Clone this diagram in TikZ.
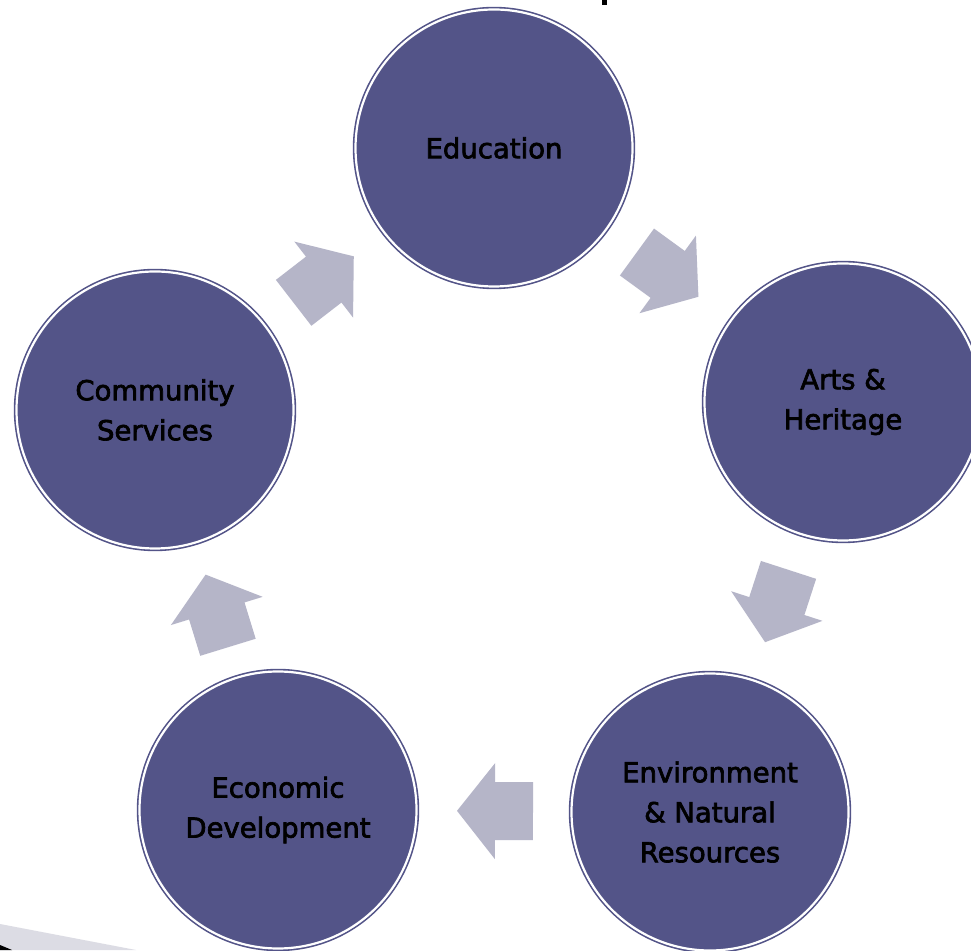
\documentclass[tikz,border=0pt]{standalone}
\usepackage{fontspec}
\setmainfont{DejaVu Sans}
\newfontfamily\topicfont[FakeBold=2.5]{DejaVu Sans}
\usetikzlibrary{calc}
\definecolor{circfill}{RGB}{83,84,136}
\definecolor{arrfill}{RGB}{181,181,200}
\definecolor{bandgrey}{RGB}{220,220,228}
\tikzset{
  topic/.style={circle, minimum size=277pt, inner sep=0pt, fill=circfill, draw=circfill,
    line width=1.6pt, double=white, double distance=2.2pt, align=center, text=black,
    font=\topicfont\fontsize{27.5}{40}\selectfont},
  blockarr/.style={fill=arrfill}
}
\newcommand\blockarrow[2]{%
  \pgfpointdiff{\pgfpointanchor{#1}{center}}{\pgfpointanchor{#2}{center}}%
  \pgfgetlastxy{\bax}{\bay}%
  \pgfmathsetmacro\baang{atan2(\bay,\bax)}%
  \begin{scope}[shift={($(#1.center)!0.5!(#2.center)$)}, rotate=\baang]
    \fill[blockarr] (-39,-29) -- (-1,-29) -- (-1,-48) -- (37,0) -- (-1,48) -- (-1,29) -- (-39,29) -- cycle;
  \end{scope}}
\begin{document}
\begin{tikzpicture}[x=1pt,y=1pt]
\useasboundingbox (0,0) rectangle (971,950);
\fill[white] (0,0) rectangle (971,950);
% background fragments
\fill[bandgrey] (0,26) -- (136,0) -- (0,0) -- cycle;
\fill[black] (0,5) -- (12,0) -- (0,0) -- cycle;
\fill[black] (602,945) rectangle (607,950);
% topics
\node[topic] (edu) at (494,802) {Education};
\node[topic] (arts) at (843,548) {Arts \&\\Heritage};
\node[topic] (env) at (710,138) {Environment\\\& Natural\\Resources};
\node[topic] (eco) at (278,140) {Economic\\Development};
\node[topic] (com) at (155,540) {Community\\Services};
% arrows
\blockarrow{edu}{arts}
\blockarrow{arts}{env}
\blockarrow{env}{eco}
\blockarrow{eco}{com}
\blockarrow{com}{edu}
\end{tikzpicture}
\end{document}
